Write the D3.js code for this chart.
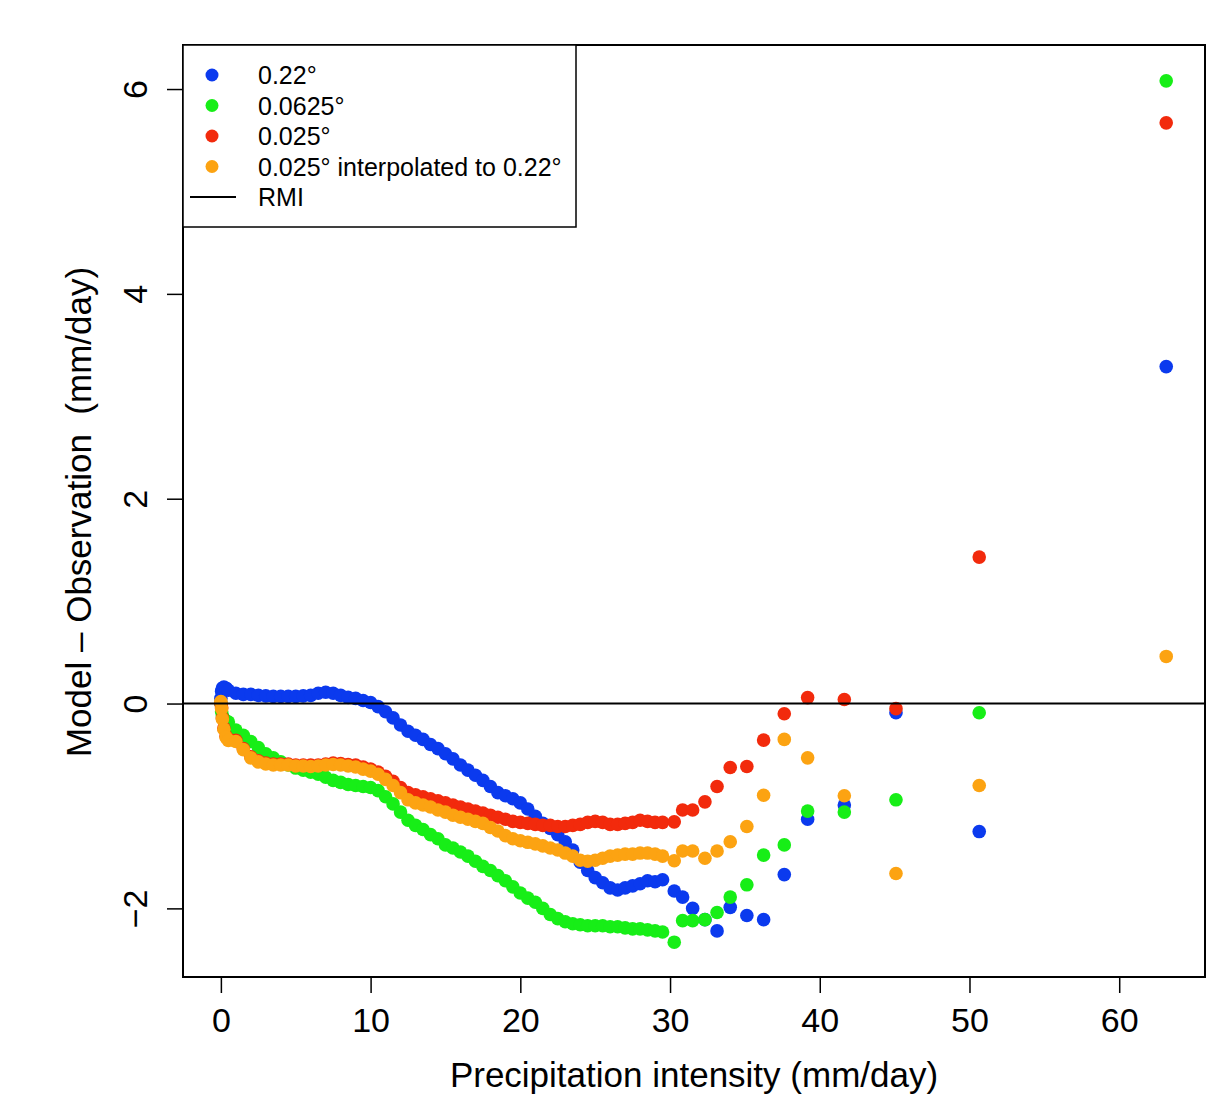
<!DOCTYPE html>
<html>
<head>
<meta charset="utf-8">
<script src="https://cdn.jsdelivr.net/npm/d3@7"></script>
<style>
  html, body { margin: 0; padding: 0; background: #fff; }
  text { font-family: "Liberation Sans", Arial, Helvetica, sans-serif; fill: #000; }
</style>
</head>
<body>
<svg id="chart" width="1219" height="1097"></svg>
<script>
// Shared precipitation intensity (mm/day) for all series
const intensity = [
  0, 0.05, 0.1, 0.2, 0.35, 0.5,
  1.0, 1.5, 2.0, 2.5, 3.0, 3.5, 4.0, 4.5, 5.0, 5.5,
  6.0, 6.5, 7.0, 7.5, 8.0, 8.5, 9.0, 9.5, 10.0, 10.5,
  11.0, 11.5, 12.0, 12.5, 13.0, 13.5, 14.0, 14.5, 15.0, 15.5,
  16.0, 16.5, 17.0, 17.5, 18.0, 18.5, 19.0, 19.5, 20.0, 20.5,
  21.0, 21.5, 22.0, 22.5, 23.0, 23.5, 24.0, 24.5, 25.0, 25.5,
  26.0, 26.5, 27.0, 27.5, 28.0, 28.5, 29.0, 29.5,
  30.28, 30.84, 31.51, 32.33, 33.14, 34.02, 35.13, 36.25, 37.63, 39.19, 41.64, 45.09, 50.65, 63.14
];

// Model - Observation (mm/day)
const res022 = [
  0.05, 0.12, 0.15, 0.16, 0.15, 0.13,
  0.10, 0.09, 0.09, 0.08, 0.075, 0.07, 0.07, 0.07, 0.07, 0.075,
  0.08, 0.10, 0.11, 0.10, 0.08, 0.06, 0.05, 0.03, 0.01, -0.03,
  -0.08, -0.14, -0.21, -0.27, -0.31, -0.35, -0.40, -0.44, -0.49, -0.54,
  -0.60, -0.65, -0.70, -0.75, -0.81, -0.87, -0.90, -0.93, -0.97, -1.03,
  -1.10, -1.17, -1.22, -1.28, -1.35, -1.43, -1.55, -1.63, -1.70, -1.75,
  -1.80, -1.82, -1.80, -1.78, -1.76, -1.73, -1.74, -1.72,
  -1.83, -1.89, -2.00, -2.11, -2.22, -1.99, -2.07, -2.11, -1.67, -1.13, -0.99, -0.09, -1.25, 3.29
];

const res00625 = [
  0.0, -0.08, -0.12, -0.15, -0.17, -0.18,
  -0.26, -0.31, -0.37, -0.43, -0.49, -0.53, -0.57, -0.60, -0.63, -0.65,
  -0.67, -0.69, -0.72, -0.75, -0.77, -0.79, -0.80, -0.81, -0.82, -0.85,
  -0.91, -0.98, -1.06, -1.14, -1.19, -1.23, -1.28, -1.32, -1.38, -1.41,
  -1.45, -1.49, -1.54, -1.59, -1.63, -1.68, -1.73, -1.79, -1.85, -1.90,
  -1.94, -2.00, -2.06, -2.10, -2.13, -2.15, -2.16, -2.17, -2.17, -2.17,
  -2.18, -2.18, -2.19, -2.20, -2.20, -2.21, -2.22, -2.23,
  -2.33, -2.12, -2.12, -2.11, -2.04, -1.89, -1.77, -1.48, -1.38, -1.05, -1.06, -0.94, -0.09, 6.08
];

const res0025 = [
  0.0, -0.04, -0.14, -0.24, -0.32, -0.35,
  -0.36, -0.44, -0.52, -0.56, -0.58, -0.59, -0.59, -0.59, -0.60, -0.60,
  -0.60, -0.60, -0.59, -0.58, -0.585, -0.595, -0.60, -0.62, -0.64, -0.67,
  -0.71, -0.76, -0.82, -0.87, -0.89, -0.91, -0.93, -0.95, -0.97, -0.99,
  -1.01, -1.03, -1.05, -1.07, -1.09, -1.11, -1.13, -1.15, -1.16, -1.17,
  -1.18, -1.19, -1.19, -1.20, -1.20, -1.19, -1.18, -1.16, -1.15, -1.16,
  -1.18, -1.18, -1.17, -1.16, -1.14, -1.15, -1.16, -1.16,
  -1.155, -1.04, -1.04, -0.96, -0.81, -0.625, -0.615, -0.357, -0.10, 0.058, 0.04, -0.05, 1.43, 5.67
];

const res0025interp = [
  0.02, -0.05, -0.15, -0.25, -0.33, -0.36,
  -0.37, -0.45, -0.53, -0.57, -0.59, -0.60, -0.60, -0.60, -0.61, -0.61,
  -0.615, -0.61, -0.60, -0.595, -0.60, -0.61, -0.62, -0.64, -0.66, -0.69,
  -0.74, -0.80, -0.87, -0.94, -0.97, -0.99, -1.01, -1.04, -1.06, -1.09,
  -1.11, -1.13, -1.15, -1.17, -1.21, -1.245, -1.29, -1.32, -1.34, -1.355,
  -1.37, -1.39, -1.41, -1.43, -1.46, -1.49, -1.53, -1.54, -1.53, -1.51,
  -1.49, -1.48, -1.47, -1.47, -1.46, -1.46, -1.47, -1.49,
  -1.535, -1.44, -1.44, -1.51, -1.44, -1.35, -1.20, -0.895, -0.35, -0.53, -0.90, -1.66, -0.80, 0.46
];

const seriesNames = ["0.22°", "0.0625°", "0.025°", "0.025° interpolated to 0.22°"];
const seriesColors = ["#0b3aee", "#17ee17", "#f22a0c", "#fca312"];
const seriesValues = [res022, res00625, res0025, res0025interp];
const refLabel = "RMI";
const refValue = 0;

const xTicks = [0, 10, 20, 30, 40, 50, 60];
const yTicks = [-2, 0, 2, 4, 6];
const xTitle = "Precipitation intensity (mm/day)";
const yTitle = "Model – Observation  (mm/day)";

// ---- layout ----
const svg = d3.select("#chart");
const L = 183, R = 1205, T = 45, B = 977;
const x = d3.scaleLinear().domain([-2.53, 65.73]).range([L, R]);
const y = d3.scaleLinear().domain([-2.67, 6.43]).range([B, T]);

svg.append("rect").attr("width", 1219).attr("height", 1097).attr("fill", "#fff");

svg.append("defs").append("clipPath").attr("id", "clip")
  .append("rect").attr("x", L).attr("y", T).attr("width", R - L).attr("height", B - T);

const plot = svg.append("g").attr("clip-path", "url(#clip)");

seriesValues.forEach((vals, si) => {
  plot.append("g").selectAll("circle")
    .data(intensity.map((v, i) => [v, vals[i]]))
    .join("circle")
    .attr("cx", d => x(d[0]))
    .attr("cy", d => y(d[1]))
    .attr("r", 6.8)
    .attr("fill", seriesColors[si]);
});

// Reference line
plot.append("line")
  .attr("x1", L).attr("x2", R)
  .attr("y1", y(refValue)).attr("y2", y(refValue))
  .attr("stroke", "#000").attr("stroke-width", 2);

// Axes
const xAxis = d3.axisBottom(x).tickValues(xTicks).tickSize(16).tickFormat(d3.format("d"));
const gx = svg.append("g").attr("transform", `translate(0,${B})`).call(xAxis);
gx.select(".domain").remove();
gx.selectAll(".tick line").attr("stroke", "#000").attr("stroke-width", 1.5);
gx.selectAll(".tick text").attr("font-size", 34).attr("font-family", "Liberation Sans, Arial, sans-serif")
  .attr("dy", "0.71em").attr("y", 31);

const yAxis = d3.axisLeft(y).tickValues(yTicks).tickSize(16)
  .tickFormat(d => d < 0 ? "\u2212" + Math.abs(d) : String(d));
const gy = svg.append("g").attr("transform", `translate(${L},0)`).call(yAxis);
gy.select(".domain").remove();
gy.selectAll(".tick line").attr("stroke", "#000").attr("stroke-width", 1.5);
gy.selectAll(".tick text")
  .attr("font-size", 34).attr("font-family", "Liberation Sans, Arial, sans-serif")
  .attr("x", null).attr("dy", null)
  .attr("text-anchor", "middle")
  .attr("transform", "translate(-36,0) rotate(-90)");

// Box
svg.append("rect").attr("x", L).attr("y", T).attr("width", R - L).attr("height", B - T)
  .attr("fill", "none").attr("stroke", "#000").attr("stroke-width", 2);

// Titles
svg.append("text").attr("x", 694).attr("y", 1087).attr("text-anchor", "middle")
  .attr("font-size", 35).text(xTitle);
svg.append("text").attr("transform", "translate(91,512) rotate(-90)")
  .attr("text-anchor", "middle").attr("font-size", 35)
  .style("white-space", "pre").text(yTitle);

// Legend
const lg = svg.append("g");
lg.append("rect").attr("x", L).attr("y", T).attr("width", 576 - L).attr("height", 227 - T)
  .attr("fill", "#fff").attr("stroke", "#000").attr("stroke-width", 1.5);
const rowY = d3.scaleLinear().domain([0, 4]).range([75, 197]);
seriesNames.forEach((name, i) => {
  lg.append("circle").attr("cx", 212).attr("cy", rowY(i)).attr("r", 6.5).attr("fill", seriesColors[i]);
  lg.append("text").attr("x", 258).attr("y", rowY(i) + 9).attr("font-size", 25).text(name);
});
lg.append("line").attr("x1", 190).attr("x2", 236).attr("y1", rowY(4)).attr("y2", rowY(4))
  .attr("stroke", "#000").attr("stroke-width", 2);
lg.append("text").attr("x", 258).attr("y", rowY(4) + 9).attr("font-size", 25).text(refLabel);
</script>
</body>
</html>
